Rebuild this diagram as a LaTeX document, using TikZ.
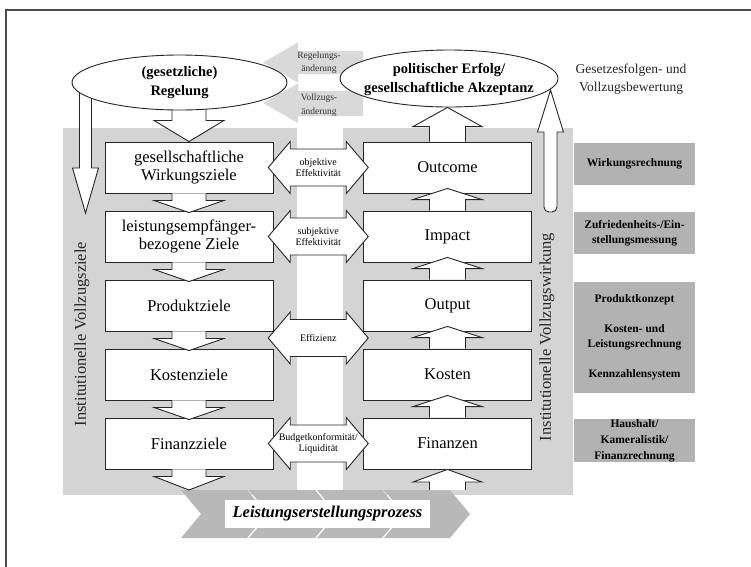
\documentclass[tikz,border=0pt]{standalone}
\usepackage{fontspec}
\setmainfont{Liberation Serif}
\usetikzlibrary{calc,shapes.geometric}
\pgfdeclarelayer{back}
\pgfdeclarelayer{mid}
\pgfsetlayers{back,mid,main}
\newcommand\blkdn[3]{\filldraw[blk] ($(#1)+(-17,0)$) -- ($(#1)+(-17,#3)$) -- ($(#1)+(-35,#3)$) -- (#2) -- ($(#1)+(35,#3)$) -- ($(#1)+(17,#3)$) -- ($(#1)+(17,0)$);}
\newcommand\blkup[3]{\filldraw[blk] ($(#1)+(-18,0)$) -- ($(#1)+(-18,-#3)$) -- ($(#1)+(-34.5,-#3)$) -- (#2) -- ($(#1)+(34.5,-#3)$) -- ($(#1)+(18,-#3)$) -- ($(#1)+(18,0)$);}
\newcommand\dblarr[3]{\filldraw[blk] ($(#1)+(-50,0)$) -- ($(#1)+(-28,-26)$) -- ($(#1)+(-28,-18.5)$) -- ($(#1)+(28,-18.5)$) -- ($(#1)+(28,-26)$) -- ($(#1)+(50,0)$) -- ($(#1)+(28,26)$) -- ($(#1)+(28,18.5)$) -- ($(#1)+(-28,18.5)$) -- ($(#1)+(-28,26)$) -- cycle;
\node[lbl] (#3) at (#1) {#2};}
\newcommand\chev[2]{\fill[procfill] (#1,490) -- (#2,490) -- ({#2+20},514) -- (#2,538) -- (#1,538) -- ({#1+20},514) -- cycle;}
\begin{document}
\begin{tikzpicture}[x=1pt,y=-1pt,
  box/.style={draw=black!85, line width=0.9pt, fill=white, minimum width=168pt, minimum height=51pt, align=center, inner sep=2pt, font=\fontsize{16.5}{18}\selectfont},
  blk/.style={draw=black!85, line width=0.9pt, fill=white, line join=miter},
  lbl/.style={font=\fontsize{10}{11}\selectfont, align=center, inner sep=0pt},
  toplbl/.style={font=\fontsize{9.5}{13.5}\selectfont, align=center, inner sep=0pt, text=black!80},
  grayarr/.style={fill=black!15},
  panel/.style={fill=black!17},
  procfill/.style={fill=black!28},
  gbox/.style={fill=black!30, minimum width=121pt, align=center, inner sep=0pt, font=\bfseries\fontsize{11.5}{15}\selectfont},
  ell/.style={ellipse, draw=black!85, line width=0.9pt, fill=white, inner sep=0pt},
  elltext/.style={align=center, inner sep=0pt, font=\bfseries\fontsize{14.5}{19}\selectfont},
  vtext/.style={rotate=90, font=\fontsize{16.5}{18}\selectfont, inner sep=0pt, text=black!85}
]
\useasboundingbox (0,0) rectangle (751,566);
\clip (0,0) rectangle (751,566);
% frame
\draw[black!70, line width=1.2pt] (6,10) rectangle (780,600);
% panels
\begin{pgfonlayer}{back}
\fill[panel] (63,128) rectangle (297,495);
\fill[panel] (343,128) rectangle (573,495);
\end{pgfonlayer}
% gray right boxes
\node[gbox, minimum height=42pt] (G1) at (634.5,164) {Wirkungsrechnung};
\node[gbox, minimum height=42pt] (G2) at (634.5,233) {Zufriedenheits-/Ein-\\stellungsmessung};
\node[gbox, minimum height=111pt] (G3) at (634.5,337.5) {Produktkonzept\\[15pt]Kosten- und\\Leistungsrechnung\\[15pt]Kennzahlensystem};
\node[gbox, minimum height=43pt, font=\bfseries\fontsize{11.5}{16}\selectfont] (G4) at (634.5,440.5) {Haushalt/\\Kameralistik/\\Finanzrechnung};
\node[align=center, inner sep=0pt, font=\fontsize{13.5}{18}\selectfont, text=black!85] (GV) at (631,79) {Gesetzesfolgen- und\\Vollzugsbewertung};
% gray left-pointing arrows
\fill[grayarr] (263,62.5) -- (298,42.5) -- (298,51) -- (363,51) -- (363,74) -- (298,74) -- (298,82.5) -- cycle;
\fill[grayarr] (263,103) -- (298,83.5) -- (298,91) -- (363,91) -- (363,116) -- (298,116) -- (298,123) -- cycle;
\node[toplbl] (RA) at (319,62.5) {Regelungs-\\änderung};
\node[toplbl] (VA) at (319,105) {Vollzugs-\\änderung};
% rotated labels
\node[vtext] (VL) at (82,334) {Institutionelle Vollzugsziele};
\node[vtext] (VR) at (547,337) {Institutionelle Vollzugswirkung};
% boxes
\node[box] (L1) at (189,167.5) {gesellschaftliche\\Wirkungsziele};
\node[box] (L2) at (189,236.5) {leistungsempfänger-\\bezogene Ziele};
\node[box] (L3) at (189,305.5) {Produktziele};
\node[box] (L4) at (189,374.5) {Kostenziele};
\node[box] (L5) at (189,443.5) {Finanzziele};
\node[box] (R1) at (447.5,167.5) {Outcome};
\node[box] (R2) at (447.5,236.5) {Impact};
\node[box] (R3) at (447.5,305.5) {Output};
\node[box] (R4) at (447.5,374.5) {Kosten};
\node[box] (R5) at (447.5,443.5) {Finanzen};
% ellipses
\node[ell, minimum width=215pt, minimum height=55pt] (E1) at (179.5,82.5) {};
\node[elltext] (E1t) at (E1.center) {(gesetzliche)\\Regelung};
\node[ell, minimum width=218pt, minimum height=57pt] (E2) at (449,78.5) {};
\node[elltext] (E2t) at ($(E2.center)+(0,1)$) {politischer Erfolg/\\gesellschaftliche Akzeptanz};
% arrows behind ellipses
\begin{pgfonlayer}{mid}
\filldraw[blk] (79.5,90) -- (79.5,168) -- (72.5,168) -- (85.5,213) -- (98.5,168) -- (91.5,168) -- (91.5,90);
\filldraw[blk] (550.5,90) -- (563.5,132) -- (557,132) [rounded corners=5pt] -- (557,212) -- (544,212) [sharp corners] -- (544,132) -- (537.5,132) -- cycle;
\coordinate (e1s) at ($(L1.north |- E1.south)+(0,-5)$);
\blkdn{e1s}{L1.north}{15}
\blkup{R1.north}{R1.north |- E2.south}{15}
\end{pgfonlayer}
% process arrow
\chev{181}{247}
\chev{249}{315}
\chev{317}{382}
\chev{384}{450}
\coordinate (Ptop) at (327,490);
\node[fill=white, minimum width=205pt, minimum height=28pt, inner sep=0pt, font=\bfseries\itshape\fontsize{16.5}{18}\selectfont] (P) at (327.5,514) {Leistungserstellungsprozess};
% block arrows between boxes
\blkdn{L1.south}{$(L2.north)+(0,2)$}{7}
\blkdn{L2.south}{$(L3.north)+(0,2)$}{7}
\blkdn{L3.south}{$(L4.north)+(0,2)$}{7}
\blkdn{L4.south}{$(L5.north)+(0,2)$}{7}
\blkdn{L5.south}{L5.south |- Ptop}{7}
\blkup{R2.north}{$(R1.south)+(0,-5)$}{11}
\blkup{R3.north}{$(R2.south)+(0,-5)$}{11}
\blkup{R4.north}{$(R3.south)+(0,-5)$}{11}
\blkup{R5.north}{$(R4.south)+(0,-5)$}{11}
\coordinate (r5b) at (R5.south |- Ptop);
\blkup{r5b}{R5.south}{8}
% double arrows
\coordinate (d1) at ($(L1.east)!0.5!(R1.west)$);
\coordinate (d2) at ($(L2.east)!0.5!(R2.west)$);
\coordinate (d3) at ($(L3.south east)!0.5!(R4.north west)+(0,-2)$);
\coordinate (d5) at ($(L5.east)!0.5!(R5.west)$);
\dblarr{d1}{objektive\\Effektivität}{D1}
\dblarr{d2}{subjektive\\Effektivität}{D2}
\dblarr{d3}{Effizienz}{D3}
\dblarr{d5}{Budgetkonformität/\\Liquidität}{D5}
\end{tikzpicture}
\end{document}
